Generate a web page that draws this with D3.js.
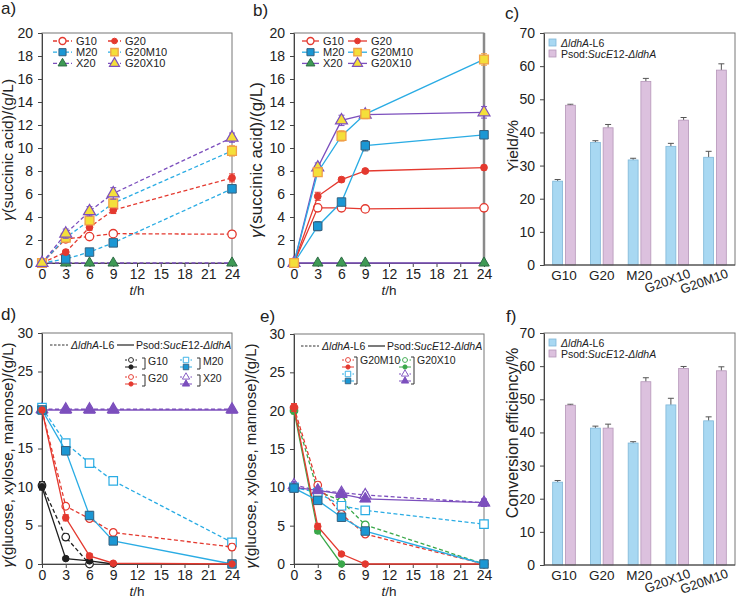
<!DOCTYPE html>
<html>
<head>
<meta charset="utf-8">
<script src="https://cdn.jsdelivr.net/npm/d3@7"></script>
<style>
body { margin: 0; background: #fff; }
svg { font-family: "Liberation Sans", Arial, sans-serif; }
</style>
</head>
<body>
<div id="chart"></div>
<script>
// time points and ticks
const times = [0, 3, 6, 9, 24]
const timeTicks = [0, 3, 6, 9, 12, 15, 18, 21, 24]
const succTicks = [0, 2, 4, 6, 8, 10, 12, 14, 16, 18, 20]
const sugarTicks = [0, 5, 10, 15, 20, 25, 30]
const pctTicks = [0, 10, 20, 30, 40, 50, 60, 70]

// panel a: succinic acid, ΔldhA-L6
const aG10 = [0, 2.1, 2.3, 2.55, 2.5]
const aG10Err = [0, 0.2, 0.25, 0.2, 0.3]
const aG20 = [0, 0.95, 3.1, 4.6, 7.4]
const aG20Err = [0, 0.15, 0.25, 0.3, 0.35]
const aM20 = [0, 0.35, 0.95, 1.75, 6.45]
const aM20Err = [0, 0.1, 0.15, 0.2, 0.3]
const aX20 = [0, 0, 0, 0, 0]
const aG20M10 = [0, 2.2, 3.7, 5.2, 9.75]
const aG20M10Err = [0, 0.2, 0.3, 0.35, 0.45]
const aG20X10 = [0, 2.55, 4.5, 6.05, 10.9]
const aG20X10Err = [0, 0.4, 0.4, 0.5, 0.4]

// panel b: succinic acid, Psod:SucE12-ΔldhA
const bG10 = [0, 4.8, 4.8, 4.7, 4.8]
const bG10Err = [0, 0.3, 0.2, 0.25, 0.3]
const bG20 = [0, 5.8, 7.25, 8.0, 8.3]
const bG20Err = [0, 0.35, 0.2, 0.15, 0.2]
const bM20 = [0, 3.2, 5.3, 10.2, 11.15]
const bM20Err = [0, 0.4, 0.3, 0.45, 0.3]
const bX20 = [0, 0, 0, 0, 0]
const bG20M10 = [0, 7.9, 11.05, 12.95, 17.7]
const bG20M10Err = [0, 0.3, 0.45, 0.4, 0.5]
const bG20X10 = [0, 8.3, 12.4, 12.9, 13.1]
const bG20X10Err = [0, 0.4, 0.45, 0.3, 0.5]

// panels c and f: bars
const barCats = ['G10', 'G20', 'M20', 'G20X10', 'G20M10']
const yieldL6 = [25.3, 37.0, 31.7, 35.8, 32.5]
const yieldL6Err = [0.5, 0.5, 0.5, 0.9, 1.8]
const yieldSuc = [48.2, 41.4, 55.4, 43.7, 58.8]
const yieldSucErr = [0.3, 1.0, 0.9, 0.8, 1.9]
const convL6 = [25.0, 41.3, 36.8, 48.3, 43.5]
const convL6Err = [0.5, 0.6, 0.4, 2.0, 1.2]
const convSuc = [48.2, 41.3, 55.3, 59.3, 58.6]
const convSucErr = [0.3, 1.2, 1.2, 0.6, 1.2]

// panel d: sugars, single substrate
const dG10L6 = [10.2, 3.5, 0, null, null]
const dG10L6Err = [0.5, 0.4, 0.1, 0, 0]
const dG10Suc = [10, 0.7, 0.4, 0, null]
const dG10SucErr = [0.4, 0.1, 0.1, 0, 0]
const dG20L6 = [20, 7.5, 5.9, 4.1, 2.2]
const dG20L6Err = [0.4, 0.3, 0.3, 0.3, 0.4]
const dG20Suc = [20, 6.0, 1.05, 0.1, 0]
const dG20SucErr = [0.3, 0.4, 0.3, 0.1, 0]
const dM20L6 = [20.3, 15.7, 13.1, 10.8, 2.8]
const dM20L6Err = [0.4, 0.4, 0.3, 0.3, 0.4]
const dM20Suc = [20, 14.7, 6.3, 3.0, 0]
const dM20SucErr = [0.4, 0.5, 0.5, 0.4, 0.1]
const dX20L6 = [20.1, 20.1, 20.1, 20.1, 20.1]
const dX20Suc = [20, 20, 20, 20, 20]

// panel e: sugars, mixed substrates
const eGmL6 = [20.4, 10.3, 6.5, 3.9, 0]
const eGmL6Err = [0.5, 0.4, 0.3, 0.3, 0]
const eGmSuc = [20.4, 4.9, 1.3, 0, 0]
const eGmSucErr = [0.5, 0.4, 0.2, 0.1, 0]
const eMmL6 = [10, 9.3, 7.6, 7.0, 5.2]
const eMmL6Err = [0.3, 0.3, 0.3, 0.3, 0.4]
const eMmSuc = [9.9, 8.3, 6.1, 4.3, 0]
const eMmSucErr = [0.3, 0.4, 0.3, 0.3, 0]
const eGxL6 = [20, 9.5, 8.2, 5.1, 0]
const eGxL6Err = [0.4, 0.3, 0.3, 0.3, 0]
const eGxSuc = [20, 4.3, 0, null, null]
const eGxSucErr = [0.4, 0.3, 0, 0, 0]
const eXxL6 = [10.3, 9.6, 9.3, 9.0, 8.0]
const eXxL6Err = [0.4, 0.3, 0.3, 0.4, 0.5]
const eXxSuc = [10, 9.6, 9.1, 8.5, 8.0]
const eXxSucErr = [0.3, 0.3, 0.3, 0.3, 0.4]

// colours
const red = '#e4392f', blue = '#2aace4', blueFill = '#1b97d4', purple = '#7c4fbd'
const green = '#3f9a55', greenE = '#3aa84a', yellow = '#f4df3a', orange = '#f0a048', black = '#1f1f1f'
const barBlue = '#a8d8f2', barPink = '#dcc1de'

let svg = d3.select('#chart').append('svg').attr('width', 736).attr('height', 599)

function styleAxis(sel) {
    sel.selectAll('.tick text').attr('font-size', 14).attr('fill', '#222')
    sel.selectAll('.domain, .tick line').attr('stroke', '#444')
}

function linePanel(l, r, t, b, yTicks) {
    let x = d3.scaleLinear().domain([0, 24]).range([l, r])
    let y = d3.scaleLinear().domain([0, d3.max(yTicks)]).range([b, t])
    let g = svg.append('g')
    g.append('rect').attr('x', l).attr('y', t).attr('width', r - l).attr('height', b - t)
        .attr('fill', 'none').attr('stroke', '#777')
    g.append('g').attr('transform', `translate(0,${b})`)
        .call(d3.axisBottom(x).tickValues(timeTicks).tickSize(4).tickPadding(2).tickSizeOuter(0))
        .call(styleAxis)
    g.append('g').attr('transform', `translate(${l},0)`)
        .call(d3.axisLeft(y).tickValues(yTicks).tickSize(4).tickPadding(5).tickSizeOuter(0))
        .call(styleAxis)
    let tl = g.append('text').attr('x', (l + r) / 2).attr('y', b + 32).attr('text-anchor', 'middle')
        .attr('font-size', 13.5).attr('fill', '#222')
    tl.append('tspan').attr('font-style', 'italic').text('t')
    tl.append('tspan').text('/h')
    return { g, x, y }
}

function mark(g, type, x, y, size, fill, stroke, sw) {
    let sym = type == 'circle' ? d3.symbolCircle : type == 'square' ? d3.symbolSquare : d3.symbolTriangle
    g.append('path').attr('d', d3.symbol(sym, size)())
        .attr('transform', `translate(${x},${y})`)
        .attr('fill', fill).attr('stroke', stroke).attr('stroke-width', sw || 1)
}

function series(p, vals, errs, st) {
    let pts = times.map((t, i) => ({ t: t, v: vals[i], e: errs ? errs[i] : 0 })).filter(d => d.v != null)
    let line = d3.line().x(d => p.x(d.t)).y(d => p.y(d.v))
    p.g.append('path').attr('d', line(pts)).attr('fill', 'none')
        .attr('stroke', st.line).attr('stroke-width', 1.3)
        .attr('stroke-dasharray', st.dash ? '4,2.5' : null)
    pts.filter(d => d.e > 0).forEach(d => {
        let cx = p.x(d.t), y1 = p.y(d.v - d.e), y2 = p.y(d.v + d.e)
        p.g.append('path').attr('d', `M${cx},${y1}V${y2}M${cx - 3},${y2}H${cx + 3}M${cx - 3},${y1}H${cx + 3}`)
            .attr('stroke', st.stroke).attr('stroke-width', 1).attr('fill', 'none')
    })
    pts.forEach(d => mark(p.g, st.type, p.x(d.t), p.y(d.v), st.size, st.fill, st.stroke, st.sw))
}

function yTitle(x, y, size, parts) {
    let t = svg.append('text').attr('transform', `translate(${x},${y}) rotate(-90)`)
        .attr('text-anchor', 'middle').attr('font-size', size).attr('fill', '#222')
    parts.forEach(pt => t.append('tspan').attr('font-style', pt[1] ? 'italic' : null).text(pt[0]))
}

function panelLabel(x, y, s) {
    svg.append('text').attr('x', x).attr('y', y).attr('font-size', 17).attr('fill', '#222').text(s)
}

// a/b styles
function succStyles(dash) {
    return {
        G10: { line: red, type: 'circle', size: 55, fill: '#fff', stroke: red, sw: 1.3, dash },
        G20: { line: red, type: 'circle', size: 36, fill: red, stroke: red, dash },
        M20: { line: blue, type: 'square', size: 72, fill: blueFill, stroke: '#35607e', dash },
        X20: { line: purple, type: 'triangle', size: 48, fill: green, stroke: '#2d6b45', dash },
        G20M10: { line: blue, type: 'square', size: 78, fill: yellow, stroke: orange, sw: 1.3, dash },
        G20X10: { line: purple, type: 'triangle', size: 62, fill: yellow, stroke: purple, sw: 1.2, dash }
    }
}

function succLegend(p, st, c1, c2) {
    let rows = [['G10', 'G20'], ['M20', 'G20M10'], ['X20', 'G20X10']]
    let cols = [c1, c2]
    rows.forEach((row, ri) => {
        let y = 41 + ri * 11.2
        row.forEach((k, ci) => {
            let [x0, x1] = cols[ci], s = st[k]
            p.g.append('line').attr('x1', x0).attr('x2', x1).attr('y1', y).attr('y2', y)
                .attr('stroke', s.line).attr('stroke-width', 1.3).attr('stroke-dasharray', s.dash ? '4,2' : null)
            mark(p.g, s.type, (x0 + x1) / 2, y, s.size * 0.7, s.fill, s.stroke, s.sw)
            p.g.append('text').attr('x', x1 + 4).attr('y', y + 4).attr('font-size', 11).attr('fill', '#222').text(k)
        })
    })
}

// ---- panel a
let pa = linePanel(42, 232, 33, 263, succTicks)
let sa = succStyles(true)
series(pa, aX20, null, sa.X20)
series(pa, aG10, aG10Err, sa.G10)
series(pa, aM20, aM20Err, sa.M20)
series(pa, aG20, aG20Err, sa.G20)
series(pa, aG20M10, aG20M10Err, sa.G20M10)
series(pa, aG20X10, aG20X10Err, sa.G20X10)
succLegend(pa, sa, [53, 72], [108, 121])
yTitle(13, 150, 15.5, [['γ', true], ['(succinic acid)/(g/L)', false]])
panelLabel(1, 14, 'a)')

// ---- panel b
let pb = linePanel(294, 484, 33, 263, succTicks)
pb.g.append('line').attr('x1', 484).attr('x2', 484).attr('y1', 33).attr('y2', 263)
    .attr('stroke', '#8a8a8a').attr('stroke-width', 2.5)
let sb = succStyles(false)
series(pb, bX20, null, sb.X20)
series(pb, bG10, bG10Err, sb.G10)
series(pb, bG20, bG20Err, sb.G20)
series(pb, bM20, bM20Err, sb.M20)
series(pb, bG20X10, bG20X10Err, sb.G20X10)
series(pb, bG20M10, bG20M10Err, sb.G20M10)
succLegend(pb, sb, [302, 319], [348, 367])
yTitle(262, 160, 17, [['γ', true], ['(succinic acid)/(g/L)', false]])
panelLabel(253, 16, 'b)')

// ---- bar panels
function barPanel(t, b, l6, l6Err, suc, sucErr, legY) {
    let l = 544, r = 735
    let x0 = d3.scaleBand().domain(barCats).range([l, r]).paddingInner(0.4).paddingOuter(0.23)
    let x1 = d3.scaleBand().domain(['L6', 'Suc']).range([0, x0.bandwidth()]).paddingInner(0.22)
    let y = d3.scaleLinear().domain([0, 70]).range([b, t])
    let g = svg.append('g')
    let groups = [['L6', l6, l6Err, barBlue, '#7fb7d8'], ['Suc', suc, sucErr, barPink, '#b596b9']]
    groups.forEach(([k, vals, errs, fill, stroke]) => {
        barCats.forEach((c, i) => {
            let bx = x0(c) + x1(k), bw = x1.bandwidth()
            let top = y(vals[i]), et = y(vals[i] + errs[i])
            g.append('path').attr('d', `M${bx + bw / 2},${top}V${et}M${bx + bw / 2 - 3},${et}H${bx + bw / 2 + 3}`)
                .attr('stroke', '#555').attr('stroke-width', 1).attr('fill', 'none')
            g.append('rect').attr('x', bx).attr('y', top).attr('width', bw).attr('height', b - top)
                .attr('fill', fill).attr('stroke', stroke).attr('stroke-width', 0.8)
        })
    })
    g.append('rect').attr('x', l).attr('y', t).attr('width', r - l).attr('height', b - t)
        .attr('fill', 'none').attr('stroke', '#777')
    g.append('g').attr('transform', `translate(${l},0)`)
        .call(d3.axisLeft(y).tickValues(pctTicks).tickSize(4).tickPadding(5).tickSizeOuter(0))
        .call(styleAxis)
    g.append('line').attr('x1', l).attr('x2', r).attr('y1', b).attr('y2', b).attr('stroke', '#444')
    barCats.forEach((c, i) => {
        let cx = x0(c) + x0.bandwidth() / 2
        if (i < 3) {
            g.append('text').attr('x', cx).attr('y', b + 15).attr('text-anchor', 'middle')
                .attr('font-size', 13.5).attr('fill', '#222').text(c)
        } else {
            g.append('text').attr('transform', `translate(${cx + 14},${b + 12}) rotate(-20)`)
                .attr('text-anchor', 'end').attr('font-size', 13).attr('fill', '#222').text(c)
        }
    })
    // legend
    let leg = [[barBlue, '#7fb7d8', [[' ', false], ['ΔldhA', true], ['-L6', false]]],
               [barPink, '#b596b9', [['Psod:', false], ['SucE', true], ['12-', false], ['ΔldhA', true]]]]
    leg.forEach(([f, s, parts], i) => {
        let ly = legY + i * 11
        g.append('rect').attr('x', 549).attr('y', ly - 4).attr('width', 7).attr('height', 7)
            .attr('fill', f).attr('stroke', s).attr('stroke-width', 0.8)
        let tx = g.append('text').attr('x', 561).attr('y', ly + 3.5).attr('font-size', 10.5).attr('fill', '#222')
        parts.forEach(pt => tx.append('tspan').attr('font-style', pt[1] ? 'italic' : null).text(pt[0]))
    })
}

barPanel(33, 265, yieldL6, yieldL6Err, yieldSuc, yieldSucErr, 43)
yTitle(518, 146, 15.5, [['Yield/%', false]])
panelLabel(505, 19, 'c)')

barPanel(333, 565, convL6, convL6Err, convSuc, convSucErr, 343)
yTitle(518, 433, 16, [['Conversion efficiency/%', false]])
panelLabel(506, 322, 'f)')

// ---- sugar panels legend helpers
function strainLegend(g, x, y) {
    g.append('line').attr('x1', x).attr('x2', x + 18).attr('y1', y).attr('y2', y)
        .attr('stroke', '#333').attr('stroke-dasharray', '2.5,1.5')
    let t1 = g.append('text').attr('x', x + 21).attr('y', y + 3.5).attr('font-size', 10.5).attr('fill', '#222')
    t1.append('tspan').attr('font-style', 'italic').text('ΔldhA')
    t1.append('tspan').text('-L6')
    g.append('line').attr('x1', x + 67).attr('x2', x + 84).attr('y1', y).attr('y2', y)
        .attr('stroke', '#333').attr('stroke-width', 1.3)
    let t2 = g.append('text').attr('x', x + 86).attr('y', y + 3.5).attr('font-size', 10.5).attr('fill', '#222')
    t2.append('tspan').text('Psod:')
    t2.append('tspan').attr('font-style', 'italic').text('SucE')
    t2.append('tspan').text('12-')
    t2.append('tspan').attr('font-style', 'italic').text('ΔldhA')
}

function miniItem(g, x, y, st) {
    g.append('line').attr('x1', x - 6).attr('x2', x + 6).attr('y1', y).attr('y2', y)
        .attr('stroke', st.line).attr('stroke-width', 1).attr('stroke-dasharray', st.dash ? '2,1.5' : null)
    mark(g, st.type, x, y, st.size * 0.42, st.fill, st.stroke, 0.9)
}

function bracket(g, x, y1, y2, label) {
    g.append('path').attr('d', `M${x - 3},${y1}H${x}V${y2}H${x - 3}`)
        .attr('fill', 'none').attr('stroke', '#333').attr('stroke-width', 1)
    g.append('text').attr('x', x + 3).attr('y', y1 + 7).attr('font-size', 10.5).attr('fill', '#222').text(label)
}

function sugarStyle(color, type, open, fillOverride, strokeOverride) {
    let sz = type == 'circle' ? (open ? 45 : 34) : type == 'square' ? 72 : 55
    return {
        line: color, type: type, size: sz, dash: open,
        fill: open ? '#fff' : (fillOverride || color),
        stroke: strokeOverride || color, sw: open ? 1.2 : 1
    }
}

// ---- panel d
let pd = linePanel(42, 232, 333, 564, sugarTicks)
let dSt = {
    G10a: sugarStyle(black, 'circle', true), G10b: sugarStyle(black, 'circle', false),
    G20a: sugarStyle(red, 'circle', true), G20b: sugarStyle(red, 'circle', false),
    M20a: sugarStyle(blue, 'square', true), M20b: sugarStyle(blue, 'square', false, blueFill, '#35607e'),
    X20a: sugarStyle(purple, 'triangle', true), X20b: sugarStyle(purple, 'triangle', false)
}
series(pd, dX20L6, null, dSt.X20a)
series(pd, dX20Suc, null, dSt.X20b)
series(pd, dM20L6, dM20L6Err, dSt.M20a)
series(pd, dG20L6, dG20L6Err, dSt.G20a)
series(pd, dG10L6, dG10L6Err, dSt.G10a)
series(pd, dG10Suc, dG10SucErr, dSt.G10b)
series(pd, dM20Suc, dM20SucErr, dSt.M20b)
series(pd, dG20Suc, dG20SucErr, dSt.G20b)
strainLegend(pd.g, 50, 345)
miniItem(pd.g, 131, 360, dSt.G10a); miniItem(pd.g, 131, 367, dSt.G10b); bracket(pd.g, 145, 358, 369, 'G10')
miniItem(pd.g, 131, 377, dSt.G20a); miniItem(pd.g, 131, 384, dSt.G20b); bracket(pd.g, 145, 375, 386, 'G20')
miniItem(pd.g, 186, 360, dSt.M20a); miniItem(pd.g, 186, 367, dSt.M20b); bracket(pd.g, 200, 358, 369, 'M20')
miniItem(pd.g, 186, 377, dSt.X20a); miniItem(pd.g, 186, 384, dSt.X20b); bracket(pd.g, 200, 375, 386, 'X20')
yTitle(13, 455, 15, [['γ', true], ['(glucose, xylose, mannose)/(g/L)', false]])
panelLabel(1, 320, 'd)')

// ---- panel e
let pe = linePanel(294, 484, 334, 564, sugarTicks)
let eSt = {
    Gma: sugarStyle(red, 'circle', true), Gmb: sugarStyle(red, 'circle', false),
    Mma: sugarStyle(blue, 'square', true), Mmb: sugarStyle(blue, 'square', false, blueFill, '#35607e'),
    Gxa: sugarStyle(greenE, 'circle', true), Gxb: sugarStyle(greenE, 'circle', false),
    Xxa: sugarStyle(purple, 'triangle', true), Xxb: sugarStyle(purple, 'triangle', false)
}
series(pe, eGxL6, eGxL6Err, eSt.Gxa)
series(pe, eGmL6, eGmL6Err, eSt.Gma)
series(pe, eXxL6, eXxL6Err, eSt.Xxa)
series(pe, eMmL6, eMmL6Err, eSt.Mma)
series(pe, eXxSuc, eXxSucErr, eSt.Xxb)
series(pe, eGxSuc, eGxSucErr, eSt.Gxb)
series(pe, eGmSuc, eGmSucErr, eSt.Gmb)
series(pe, eMmSuc, eMmSucErr, eSt.Mmb)
strainLegend(pe.g, 301, 346)
miniItem(pe.g, 348, 360, eSt.Gma); miniItem(pe.g, 348, 367, eSt.Gmb)
miniItem(pe.g, 348, 374, eSt.Mma); miniItem(pe.g, 348, 381, eSt.Mmb)
bracket(pe.g, 357, 357, 384, 'G20M10')
miniItem(pe.g, 405, 360, eSt.Gxa); miniItem(pe.g, 405, 367, eSt.Gxb)
miniItem(pe.g, 405, 374, eSt.Xxa); miniItem(pe.g, 405, 381, eSt.Xxb)
bracket(pe.g, 414, 357, 384, 'G20X10')
yTitle(256, 456, 15, [['γ', true], ['(glucose, xylose, mannose)/(g/L)', false]])
panelLabel(260, 322, 'e)')
</script>
</body>
</html>
